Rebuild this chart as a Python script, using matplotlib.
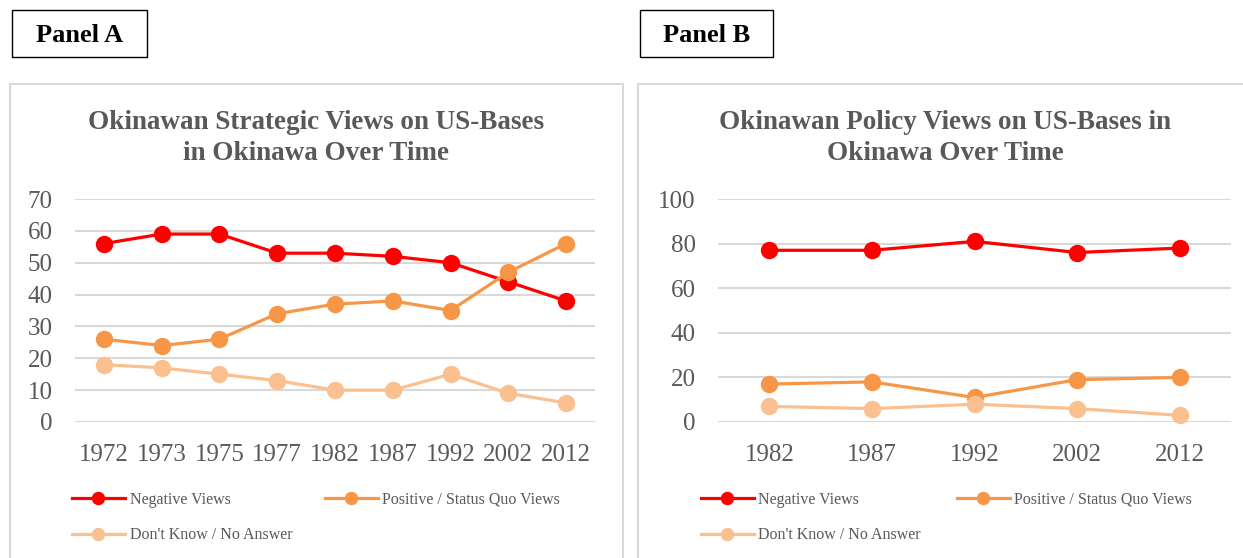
import numpy as np
import matplotlib.pyplot as plt
from matplotlib.patches import Rectangle

W, H = 1243, 558

years_a = ["1972", "1973", "1975", "1977", "1982", "1987", "1992", "2002", "2012"]
neg_a = [56, 59, 59, 53, 53, 52, 50, 44, 38]
pos_a = [26, 24, 26, 34, 37, 38, 35, 47, 56]
dk_a = [18, 17, 15, 13, 10, 10, 15, 9, 6]

years_b = ["1982", "1987", "1992", "2002", "2012"]
neg_b = [77, 77, 81, 76, 78]
pos_b = [17, 18, 11, 19, 20]
dk_b = [7, 6, 8, 6, 3]

labels = ["Negative Views", "Positive / Status Quo Views", "Don't Know / No Answer"]
colors = ["#FF0000", "#F79646", "#FAC090"]

title_a = "Okinawan Strategic Views on US-Bases\nin Okinawa Over Time"
title_b = "Okinawan Policy Views on US-Bases in\nOkinawa Over Time"

plt.rcParams['font.family'] = ['Liberation Serif', 'DejaVu Serif']
txt_col = "#595959"
grid_col = "#D9D9D9"

fig = plt.figure(figsize=(W/100, H/100), dpi=100)


def fx(x):
	return x / W

def fy(y):
	return 1 - y / H


def frame(x0, y0, x1, y1, col, lw):
	fig.patches.append(Rectangle((fx(x0), fy(y1)), fx(x1-x0), (y1-y0)/H,
		transform=fig.transFigure, fill=False, edgecolor=col, linewidth=lw))


def make_legend(hs, labs, x, y):
	leg = fig.legend(hs, labs, loc='upper left', bbox_to_anchor=(fx(x), fy(y)),
		frameon=False, fontsize=11.5, labelcolor=txt_col, handlelength=3.3,
		handletextpad=0.3, labelspacing=1.2, borderpad=0, borderaxespad=0,
		markerscale=0.75)
	return leg


def panel(ax_left, ax_right, cats, series, ymax, ystep, title, tx, leg_x, leg_x2):
	ax = fig.add_axes([fx(ax_left), fy(422), fx(ax_right-ax_left), (422-199)/H])
	xs = np.arange(len(cats))
	hs = []
	for vals, c in zip(series, colors):
		h, = ax.plot(xs, vals, color=c, lw=2.3, marker='o', ms=11.5, clip_on=False, zorder=3)
		hs.append(h)
	ax.set_xlim(-0.5, len(cats)-0.5)
	ax.set_ylim(0, ymax)
	ax.set_yticks(np.arange(0, ymax+1, ystep))
	ax.set_xticks(xs)
	ax.set_xticklabels(cats)
	ax.grid(axis='y', color=grid_col, lw=1.5)
	ax.set_axisbelow(True)
	for s in ax.spines.values():
		s.set_visible(False)
	ax.tick_params(length=0, labelsize=18, labelcolor=txt_col)
	ax.tick_params(axis='y', pad=16)
	ax.tick_params(axis='x', pad=16)
	fig.text(fx(tx), fy(138), title, ha='center', va='center', fontsize=19.5,
		fontweight='bold', color=txt_col, linespacing=1.3)
	make_legend([hs[0], hs[2]], [labels[0], labels[2]], leg_x, 492)
	make_legend([hs[1]], [labels[1]], leg_x2, 492)
	return ax


# chart frames and panel labels
frame(10, 84, 623, 600, grid_col, 1.5)
frame(638, 84, 1300, 600, grid_col, 1.5)
frame(12, 10, 147, 57, "black", 1.0)
frame(640, 10, 773, 57, "black", 1.0)
fig.text(fx(80), fy(36), "Panel A", ha='center', va='center', fontsize=19, fontweight='bold')
fig.text(fx(707), fy(36), "Panel B", ha='center', va='center', fontsize=19, fontweight='bold')

panel(75, 595, years_a, [neg_a, pos_a, dk_a], 70, 10, title_a, 316, 72, 325)
panel(718, 1231, years_b, [neg_b, pos_b, dk_b], 100, 20, title_b, 945, 701, 957)

fig.savefig("out.png", dpi=100)
